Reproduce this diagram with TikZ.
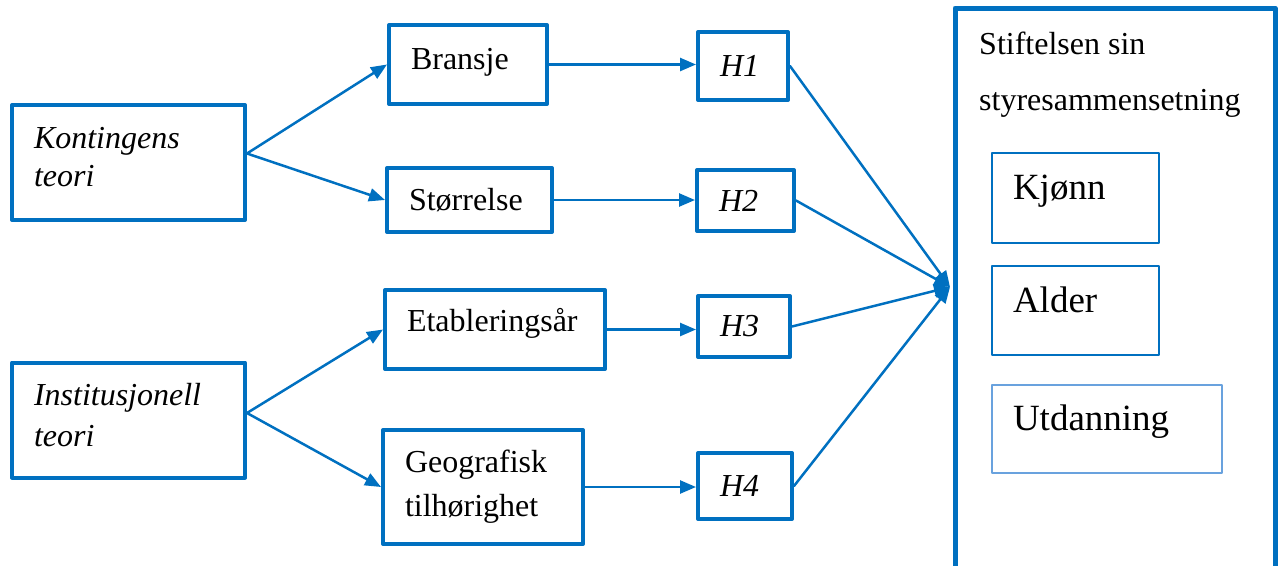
\documentclass[tikz,border=0pt]{standalone}
\usepackage{fontspec}
\setmainfont{Liberation Serif}
\usetikzlibrary{arrows.meta}
\definecolor{wordblue}{RGB}{0,112,192}
\definecolor{lightblue}{RGB}{105,162,222}
\tikzset{
	box/.style={draw=wordblue,line width=4pt,align=left,inner xsep=22pt,inner ysep=0pt,font=\fontsize{32}{38}\selectfont},
	ibox/.style={box,font=\fontsize{32}{38}\selectfont\itshape},
	innerbox/.style={draw=wordblue,line width=2.5pt,align=left,inner xsep=21pt,inner ysep=0pt,font=\fontsize{37}{44}\selectfont,text depth=22pt}
}
\begin{document}
\begin{tikzpicture}[
	x=1pt,y=-1pt,
	>={Triangle[length=16pt,width=13pt]},
	line cap=round,
	line join=round
	]
	\useasboundingbox (0,0) rectangle (1279,565);
	\node[ibox,text width=189pt,minimum height=115pt,text depth=50pt] (kont) at (128.5,162.5) {Kontingens\\teori};
	\node[ibox,text width=189pt,minimum height=115pt,font=\fontsize{32}{41}\selectfont\itshape,text depth=51pt] (inst) at (128.5,420) {Institusjonell\\teori};
	\node[box,text width=114pt,minimum height=79pt,text depth=11pt] (bransje) at (468,64.5) {Bransje};
	\node[box,text width=121pt,minimum height=64pt] (storrelse) at (469.5,200) {Størrelse};
	\node[box,text width=176pt,minimum height=79pt,text depth=19pt] (etabl) at (495,329.5) {Etableringsår};
	\node[box,text width=156pt,minimum height=114pt,font=\fontsize{32}{44}\selectfont] (geo) at (483,487) {Geografisk\\tilhørighet};
	\node[ibox,text width=46pt,minimum height=68pt] (h1) at (743,66) {H1};
	\node[ibox,text width=53pt,minimum height=61pt] (h2) at (745.5,200.5) {H2};
	\node[ibox,text width=48pt,minimum height=61pt] (h3) at (744,326.5) {H3};
	\node[ibox,text width=50pt,minimum height=66pt] (h4) at (745,486) {H4};
	\node[draw=wordblue,line width=5pt,minimum width=320pt,minimum height=572pt] (styre) at (1115,294) {};
	\node[font=\fontsize{32}{56}\selectfont,align=left,anchor=north west,inner sep=0pt] (tittel) at (979,32) {Stiftelsen sin\\styresammensetning};
	\node[innerbox,text width=125pt,minimum height=90pt] (kjonn) at (1075.5,198) {Kjønn};
	\node[innerbox,text width=125pt,minimum height=89pt] (alder) at (1075.5,310.5) {Alder};
	\node[innerbox,draw=lightblue,text width=188pt,minimum height=88pt] (utd) at (1107,429) {Utdanning};
	\coordinate (samle) at (950,287);
	\begin{scope}[->,draw=wordblue,line width=2.5pt]
		\draw ([yshift=9pt]kont.east) -- (bransje.west);
		\draw ([yshift=9pt]kont.east) -- (storrelse.west);
		\draw ([yshift=7pt]inst.east) -- (etabl.west);
		\draw ([yshift=7pt]inst.east) -- (geo.west);
		\draw (bransje.east) -- (bransje.east -| h1.west);
		\draw (storrelse.east) -- (storrelse.east -| h2.west);
		\draw (etabl.east) -- (etabl.east -| h3.west);
		\draw (geo.east) -- (geo.east -| h4.west);
		\draw (h1.east) -- (samle);
		\draw (h2.east) -- (samle);
		\draw (h3.east) -- (samle);
		\draw (h4.east) -- (samle);
	\end{scope}
\end{tikzpicture}
\end{document}
